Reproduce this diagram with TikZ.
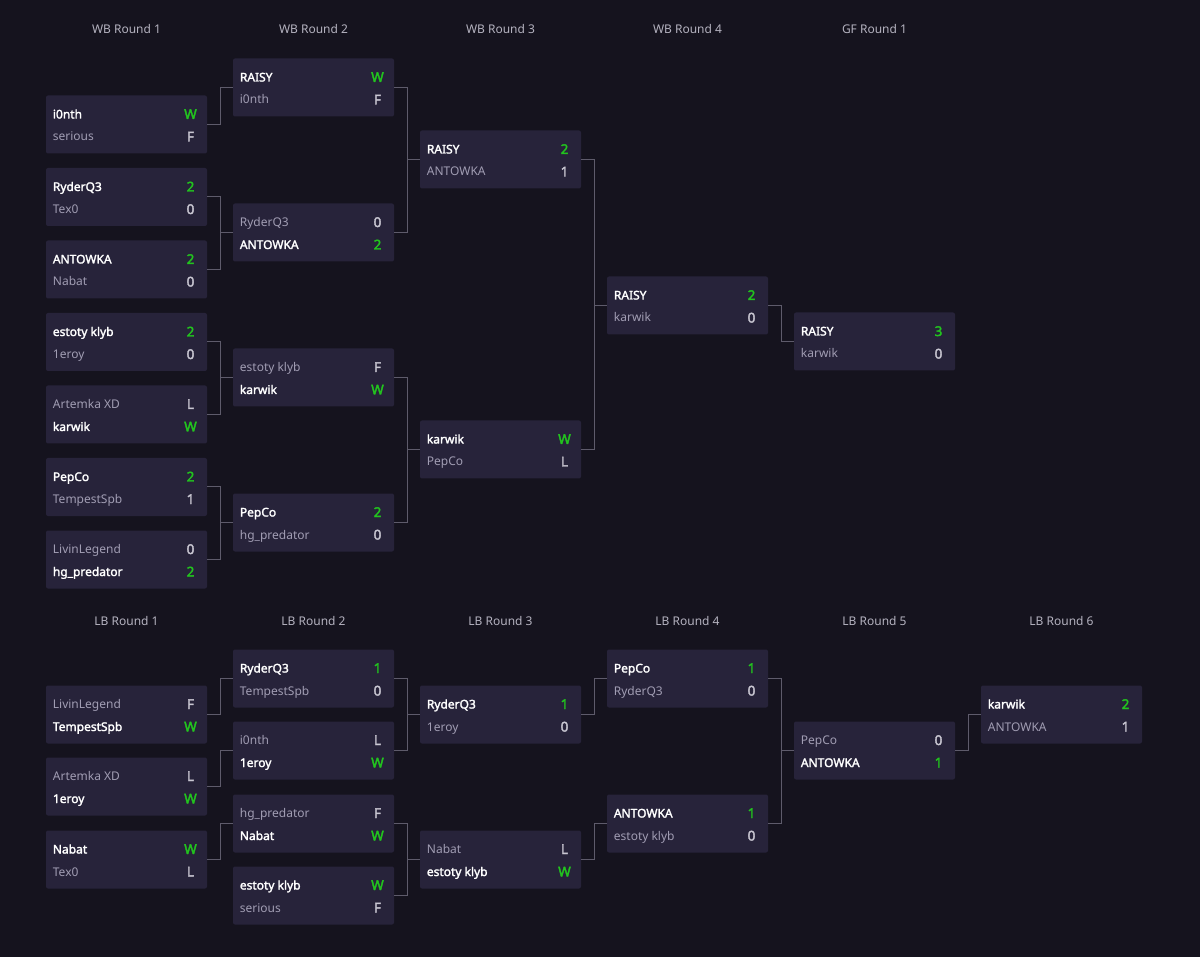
\documentclass[tikz,border=0pt]{standalone}
\usepackage{fontspec}
\setmainfont{Noto Sans}[AutoFakeBold=2]
\newfontfamily\scorefont{Noto Sans}[FakeBold=2.6]
\definecolor{bg}{HTML}{15131E}
\definecolor{boxc}{HTML}{27233A}
\definecolor{wint}{HTML}{FFFFFF}
\definecolor{loset}{HTML}{A19DB3}
\definecolor{wins}{HTML}{22C41E}
\definecolor{loses}{HTML}{C9C7D2}
\definecolor{hdr}{HTML}{B4B2BF}
\definecolor{ln}{HTML}{5E5B6B}
\tikzset{
  matchbox/.style={fill=boxc, rounded corners=2pt, minimum width=161pt, minimum height=58pt, inner sep=0pt, outer sep=0pt, anchor=west},
  wname/.style={anchor=base west, text=wint, font=\fontsize{12}{14}\selectfont\bfseries, inner sep=0pt},
  lname/.style={anchor=base west, text=loset, font=\fontsize{12}{14}\selectfont, inner sep=0pt},
  wscore/.style={anchor=base, text=wins, font=\scorefont\fontsize{13.5}{14}\selectfont, inner sep=0pt},
  lscore/.style={anchor=base, text=loses, font=\scorefont\fontsize{13.5}{14}\selectfont, inner sep=0pt},
  hdrtext/.style={anchor=base, text=hdr, font=\fontsize{12}{14}\selectfont, inner sep=0pt},
  conn/.style={draw=ln, line width=1pt}
}
% #1 id, #2 x, #3 yc, #4 name1, #5 s1, #6 name2, #7 s2, #8 winner
\newcommand\bmatch[8]{%
  \node[matchbox] (#1) at (#2,#3) {};
  \ifnum#8=1
    \node[wname] (#1-n1) at (#2+6.7,#3-6) {#4};
    \node[wscore] (#1-s1) at (#2+144.5,#3-5.5) {#5};
    \node[lname] (#1-n2) at (#2+6.7,#3+16.5) {#6};
    \node[lscore] (#1-s2) at (#2+144.5,#3+17) {#7};
  \else
    \node[lname] (#1-n1) at (#2+6.7,#3-6) {#4};
    \node[lscore] (#1-s1) at (#2+144.5,#3-5.5) {#5};
    \node[wname] (#1-n2) at (#2+6.7,#3+16.5) {#6};
    \node[wscore] (#1-s2) at (#2+144.5,#3+17) {#7};
  \fi
}
\begin{document}
\begin{tikzpicture}[x=1pt,y=-1pt]
\fill[bg] (0,0) rectangle (1200,957);
\useasboundingbox (0,0) rectangle (1200,957);

% headers
\node[hdrtext] (h1) at (126.5,34) {WB Round 1};
\node[hdrtext] (h2) at (313.5,34) {WB Round 2};
\node[hdrtext] (h3) at (500.5,34) {WB Round 3};
\node[hdrtext] (h4) at (687.5,34) {WB Round 4};
\node[hdrtext] (h5) at (874.5,34) {GF Round 1};
\node[hdrtext] (l1) at (126.5,625) {LB Round 1};
\node[hdrtext] (l2) at (313.5,625) {LB Round 2};
\node[hdrtext] (l3) at (500.5,625) {LB Round 3};
\node[hdrtext] (l4) at (687.5,625) {LB Round 4};
\node[hdrtext] (l5) at (874.5,625) {LB Round 5};
\node[hdrtext] (l6) at (1061.5,625) {LB Round 6};

% WB Round 1
\bmatch{wa1}{46}{124.5}{i0nth}{W}{serious}{F}{1}
\bmatch{wa2}{46}{197}{RyderQ3}{2}{Tex0}{0}{1}
\bmatch{wa3}{46}{269.5}{ANTOWKA}{2}{Nabat}{0}{1}
\bmatch{wa4}{46}{342}{estoty klyb}{2}{1eroy}{0}{1}
\bmatch{wa5}{46}{414.5}{Artemka XD}{L}{karwik}{W}{2}
\bmatch{wa6}{46}{487}{PepCo}{2}{TempestSpb}{1}{1}
\bmatch{wa7}{46}{559.5}{LivinLegend}{0}{hg\_predator}{2}{2}
% WB Round 2
\bmatch{wb1}{233}{87.5}{RAISY}{W}{i0nth}{F}{1}
\bmatch{wb2}{233}{232.5}{RyderQ3}{0}{ANTOWKA}{2}{2}
\bmatch{wb3}{233}{377.5}{estoty klyb}{F}{karwik}{W}{2}
\bmatch{wb4}{233}{522.5}{PepCo}{2}{hg\_predator}{0}{1}
% WB Round 3
\bmatch{wc1}{420}{159.5}{RAISY}{2}{ANTOWKA}{1}{1}
\bmatch{wc2}{420}{449.5}{karwik}{W}{PepCo}{L}{1}
% WB Round 4
\bmatch{wd1}{607}{305.5}{RAISY}{2}{karwik}{0}{1}
% GF
\bmatch{gf1}{794}{341.5}{RAISY}{3}{karwik}{0}{1}

% LB Round 1
\bmatch{la1}{46}{714.5}{LivinLegend}{F}{TempestSpb}{W}{2}
\bmatch{la2}{46}{786.5}{Artemka XD}{L}{1eroy}{W}{2}
\bmatch{la3}{46}{859.5}{Nabat}{W}{Tex0}{L}{1}
% LB Round 2
\bmatch{lb1}{233}{678.5}{RyderQ3}{1}{TempestSpb}{0}{1}
\bmatch{lb2}{233}{750.5}{i0nth}{L}{1eroy}{W}{2}
\bmatch{lb3}{233}{823.5}{hg\_predator}{F}{Nabat}{W}{2}
\bmatch{lb4}{233}{895.5}{estoty klyb}{W}{serious}{F}{1}
% LB Round 3
\bmatch{lc1}{420}{714.5}{RyderQ3}{1}{1eroy}{0}{1}
\bmatch{lc2}{420}{859.5}{Nabat}{L}{estoty klyb}{W}{2}
% LB Round 4
\bmatch{ld1}{607}{678.5}{PepCo}{1}{RyderQ3}{0}{1}
\bmatch{ld2}{607}{823.5}{ANTOWKA}{1}{estoty klyb}{0}{1}
% LB Round 5
\bmatch{le1}{794}{750.5}{PepCo}{0}{ANTOWKA}{1}{2}
% LB Round 6
\bmatch{lf1}{981}{714.5}{karwik}{2}{ANTOWKA}{1}{1}

% connectors WB
\draw[conn] (wa1.east) -- ++(13,0) |- (wb1.west);
\draw[conn] (wa2.east) -- ++(13,0) |- (wb2.west);
\draw[conn] (wa3.east) -- ++(13,0) |- (wb2.west);
\draw[conn] (wa4.east) -- ++(13,0) |- (wb3.west);
\draw[conn] (wa5.east) -- ++(13,0) |- (wb3.west);
\draw[conn] (wa6.east) -- ++(13,0) |- (wb4.west);
\draw[conn] (wa7.east) -- ++(13,0) |- (wb4.west);
\draw[conn] (wb1.east) -- ++(13,0) |- (wc1.west);
\draw[conn] (wb2.east) -- ++(13,0) |- (wc1.west);
\draw[conn] (wb3.east) -- ++(13,0) |- (wc2.west);
\draw[conn] (wb4.east) -- ++(13,0) |- (wc2.west);
\draw[conn] (wc1.east) -- ++(13,0) |- (wd1.west);
\draw[conn] (wc2.east) -- ++(13,0) |- (wd1.west);
\draw[conn] (wd1.east) -- ++(13,0) |- (gf1.west);

% connectors LB
\draw[conn] (la1.east) -- ++(13,0) |- (lb1.west);
\draw[conn] (la2.east) -- ++(13,0) |- (lb2.west);
\draw[conn] (la3.east) -- ++(13,0) |- (lb3.west);
\draw[conn] (lb1.east) -- ++(13,0) |- (lc1.west);
\draw[conn] (lb2.east) -- ++(13,0) |- (lc1.west);
\draw[conn] (lb3.east) -- ++(13,0) |- (lc2.west);
\draw[conn] (lb4.east) -- ++(13,0) |- (lc2.west);
\draw[conn] (lc1.east) -- ++(13,0) |- (ld1.west);
\draw[conn] (lc2.east) -- ++(13,0) |- (ld2.west);
\draw[conn] (ld1.east) -- ++(13,0) |- (le1.west);
\draw[conn] (ld2.east) -- ++(13,0) |- (le1.west);
\draw[conn] (le1.east) -- ++(13,0) |- (lf1.west);
\end{tikzpicture}
\end{document}
